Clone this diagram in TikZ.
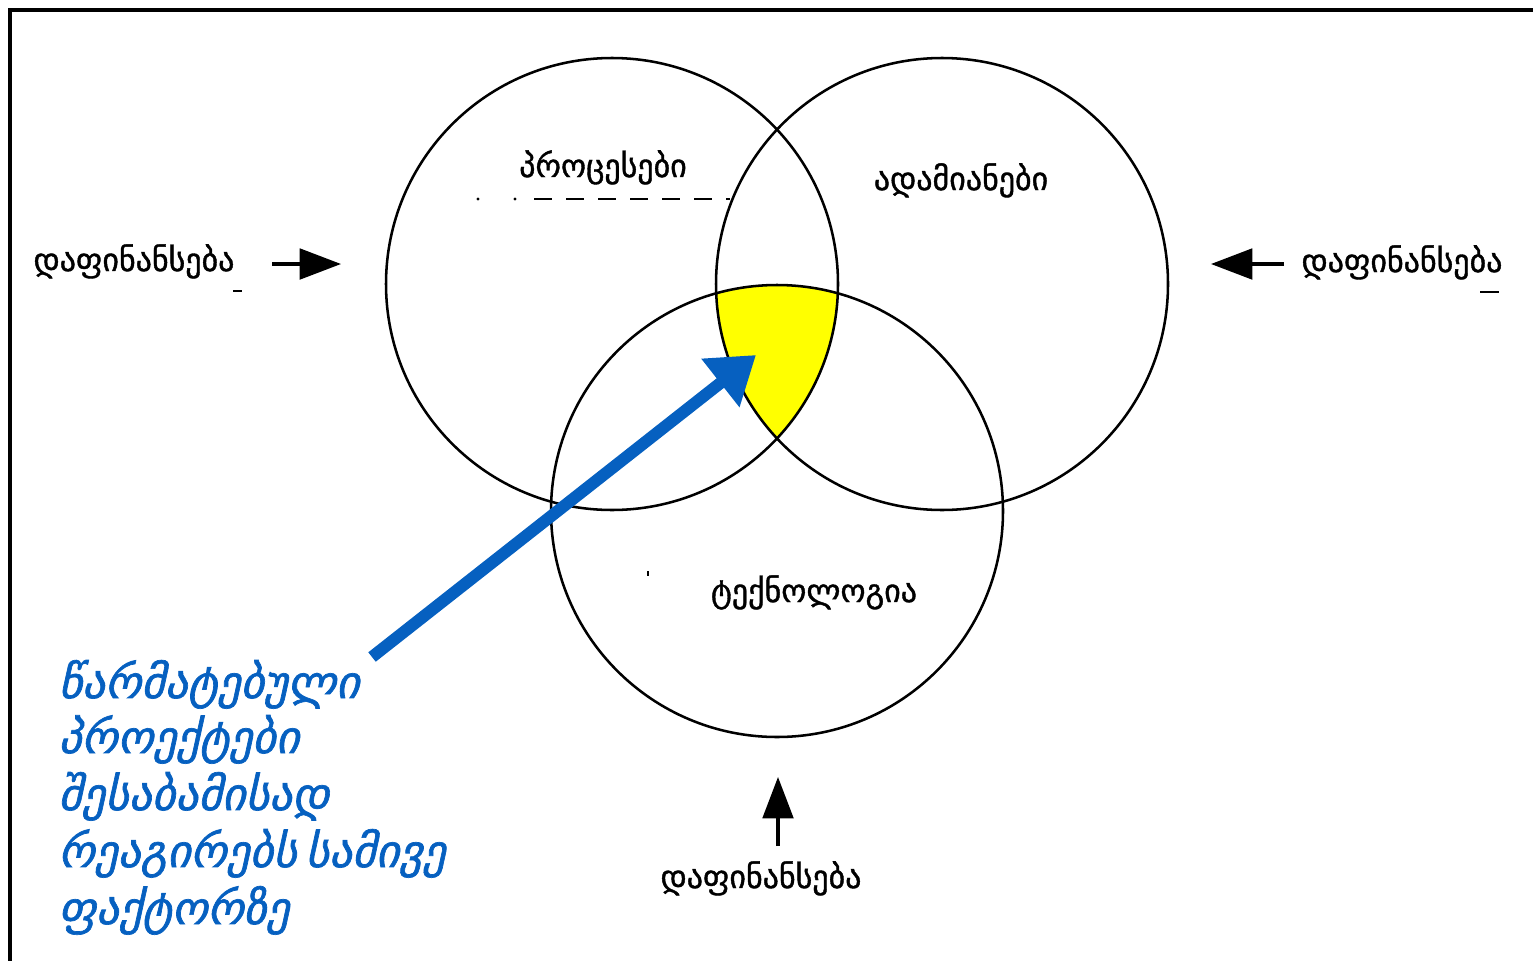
\documentclass[tikz,border=0pt]{standalone}
\usepackage{fontspec}
\setmainfont{DejaVu Sans}
\newfontfamily\geo[FakeBold=1.2]{DejaVu Sans}
\newfontfamily\geoit[FakeSlant=0.22,FakeBold=1.5,WordSpace=0.6]{DejaVu Sans}
\usetikzlibrary{arrows.meta}
\definecolor{myblue}{RGB}{6,96,192}
\definecolor{myyellow}{RGB}{255,255,0}
\tikzset{
  lbl/.style={font=\geo\fontsize{24}{28}\selectfont, inner sep=0pt, anchor=base},
  blu/.style={font=\geoit\fontsize{34}{40}\selectfont, text=myblue, inner sep=0pt, anchor=base west},
  ringline/.style={line width=1.9pt},
  fundarrow/.style={line width=2.3pt, -{Triangle[length=31pt,width=23pt]}},
  bigarrow/.style={draw=myblue, line width=9pt, -{Triangle[length=34pt,width=44pt]}},
}
\begin{document}
\begin{tikzpicture}[x=0.75pt,y=-0.75pt]
\useasboundingbox (0,0) rectangle (1533,960);
% frame
\draw[line width=2.4pt] (1545,10) -- (10,10) -- (10,975);
% circle centres
\coordinate (A) at (612,284);
\coordinate (B) at (942,284);
\coordinate (C) at (777,511);
\begin{scope}
  \clip (A) circle[radius=169.5pt];
  \clip (B) circle[radius=169.5pt];
  \fill[myyellow] (C) circle[radius=169.5pt];
\end{scope}
\draw[ringline] (A) circle[radius=169.5pt];
\draw[ringline] (B) circle[radius=169.5pt];
\draw[ringline] (C) circle[radius=169.5pt];
% circle labels
\node[lbl] (pA) at (603,177) {პროცესები};
\node[lbl] (pB) at (961,190) {ადამიანები};
\node[lbl] (pC) at (814,602) {ტექნოლოგია};
% remnants
\draw[line width=2.2pt, dash pattern=on 13.5pt off 10.5pt] (534,199) -- (730,199);
\fill (478,199) circle[radius=1.2pt];
\fill (515,199) circle[radius=1.2pt];
\draw[line width=1.5pt] (233,291) -- (242,291);
\draw[line width=2.2pt] (1480,292) -- (1499,292);
\draw[line width=0.8pt] (648,571) -- (648,576);
% funding labels and arrows
\node[lbl] (fL) at (134,271) {დაფინანსება};
\node[lbl] (fR) at (1402,272) {დაფინანსება};
\node[lbl] (fB) at (761,888) {დაფინანსება};
\coordinate (aLs) at (272,264);
\coordinate (aLe) at (341,264);
\coordinate (aRs) at (1284,264);
\coordinate (aRe) at (1211,264);
\coordinate (aBs) at (778,846);
\coordinate (aBe) at (778,777);
\draw[fundarrow] (aLs) -- (aLe);
\draw[fundarrow] (aRs) -- (aRe);
\draw[fundarrow] (aBs) -- (aBe);
% blue text and arrow
\node[blu] (b1) at (58,698) {წარმატებული};
\node[blu] (b2) at (58,753) {პროექტები};
\node[blu] (b3) at (58,810) {შესაბამისად};
\node[blu] (b4) at (58,867) {რეაგირებს სამივე};
\node[blu] (b5) at (58,924) {ფაქტორზე};
\coordinate (bs) at (372,657);
\coordinate (be) at (756,355);
\draw[bigarrow] (bs) -- (be);
\end{tikzpicture}
\end{document}
